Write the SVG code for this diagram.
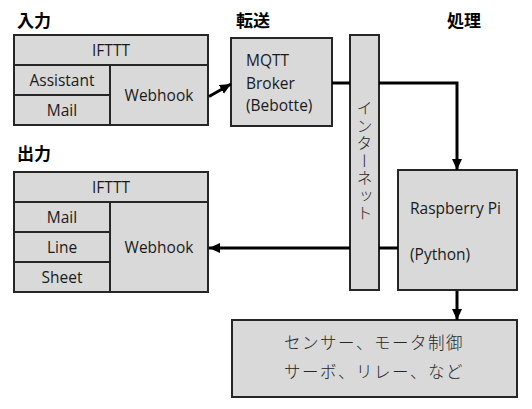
<svg xmlns="http://www.w3.org/2000/svg" width="532" height="409" viewBox="0 0 532 409">
<style>
.box{fill:#d9d9d9;stroke:#262626;stroke-width:2}
.t{font-family:"Segoe UI","Open Sans","Noto Sans CJK JP",sans-serif;font-size:15.5px;fill:#1a1a1a}
.c{text-anchor:middle}
.h{font-family:"Noto Sans CJK JP",sans-serif;font-size:17px;font-weight:bold;fill:#000}
.jp{font-family:"Noto Sans CJK JP",sans-serif;font-size:16.5px;fill:#262626;font-weight:300}
.con{fill:none;stroke:#000;stroke-width:3}
</style>
<defs>
<marker id="ah" markerUnits="userSpaceOnUse" markerWidth="12" markerHeight="12" viewBox="0 0 12 12" refX="11" refY="6" orient="auto">
<path d="M0,1 L11,6 L0,11 Z" fill="#000"/>
</marker>
</defs>
<rect width="532" height="409" fill="#fff"/>
<g id="titles">
<text class="h" x="17" y="27">入力</text>
<text class="h" x="236" y="27">転送</text>
<text class="h" x="447" y="27">処理</text>
<text class="h" x="17" y="160">出力</text>
</g>
<g id="input">
<rect class="box" x="14" y="35" width="194" height="30"/>
<rect class="box" x="14" y="65" width="96" height="30"/>
<rect class="box" x="14" y="95" width="96" height="30"/>
<rect class="box" x="110" y="65" width="98" height="60"/>
<text class="t c" x="111" y="55.5">IFTTT</text>
<text class="t c" x="62" y="85.5">Assistant</text>
<text class="t c" x="62" y="115.5">Mail</text>
<text class="t c" x="159" y="100.5">Webhook</text>
</g>
<g id="mqtt">
<rect class="box" x="231" y="38" width="101" height="88"/>
<text class="t" x="246" y="65.5">MQTT</text>
<text class="t" x="246" y="88.5">Broker</text>
<text class="t" x="246" y="110.5">(Bebotte)</text>
</g>
<g id="internet">
<rect class="box" x="350" y="35" width="29" height="255"/>
<text class="jp" x="364.5" y="100" style="writing-mode:vertical-rl;letter-spacing:1.5px;font-size:16px">インターネット</text>
</g>
<g id="raspi">
<rect class="box" x="398" y="170" width="119" height="120"/>
<text class="t" x="410" y="213.5">Raspberry Pi</text>
<text class="t" x="410" y="259.5">(Python)</text>
</g>
<g id="devices">
<rect class="box" x="232" y="320" width="285" height="77"/>
<text class="jp c" x="374" y="348.5" style="letter-spacing:1.5px">センサー、モータ制御</text>
<text class="jp c" x="374" y="377.5" style="letter-spacing:1.5px">サーボ、リレー、など</text>
</g>
<g id="output">
<rect class="box" x="14" y="172" width="194" height="30"/>
<rect class="box" x="14" y="202" width="96" height="30"/>
<rect class="box" x="14" y="232" width="96" height="30"/>
<rect class="box" x="14" y="262" width="96" height="30"/>
<rect class="box" x="110" y="202" width="98" height="90"/>
<text class="t c" x="111" y="192.5">IFTTT</text>
<text class="t c" x="62" y="222.5">Mail</text>
<text class="t c" x="62" y="252.5">Line</text>
<text class="t c" x="62" y="282.5">Sheet</text>
<text class="t c" x="159" y="252.5">Webhook</text>
</g>
<g id="connectors">
<path class="con" d="M209,96.5 L231,84" marker-end="url(#ah)"/>
<path class="con" d="M332,83 H350"/>
<path class="con" d="M379,83 H457 V170" marker-end="url(#ah)"/>
<path class="con" d="M398,248 H379"/>
<path class="con" d="M350,248 H209" marker-end="url(#ah)"/>
<path class="con" d="M457,291 V320" marker-end="url(#ah)"/>
</g>
</svg>
